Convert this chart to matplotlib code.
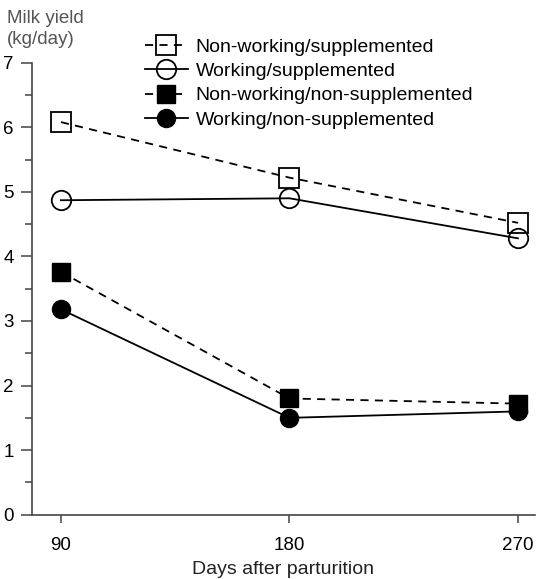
import numpy as np
import matplotlib
matplotlib.use("Agg")
import matplotlib.pyplot as plt

plt.rcParams['font.family'] = ['Liberation Sans', 'DejaVu Sans']

days = [90, 180, 270]

nonwork_supp = [6.08, 5.22, 4.52]
work_supp = [4.87, 4.90, 4.28]
nonwork_nonsupp = [3.76, 1.80, 1.72]
work_nonsupp = [3.18, 1.50, 1.60]

labels = ["Non-working/supplemented",
          "Working/supplemented",
          "Non-working/non-supplemented",
          "Working/non-supplemented"]

W, H = 541, 579
fig = plt.figure(figsize=(W / 100, H / 100), dpi=100)
ax = fig.add_axes([32 / W, 1 - 514.7 / H, (535 - 32) / W, (514.7 - 62.7) / H])

lw = 1.3
ms = 14
dash = (4.5, 3.5)

ax.plot(days, nonwork_supp, color='black', lw=lw, dashes=dash, marker='s',
        ms=ms, mfc='none', mec='black', mew=1.3, label=labels[0])
ax.plot(days, work_supp, color='black', lw=lw, marker='o',
        ms=ms, mfc='none', mec='black', mew=1.3, label=labels[1])
ax.plot(days, nonwork_nonsupp, color='black', lw=lw, dashes=dash, marker='s',
        ms=13, mfc='black', mec='black', label=labels[2])
ax.plot(days, work_nonsupp, color='black', lw=lw, marker='o',
        ms=13, mfc='black', mec='black', label=labels[3])

ax.set_xlim(78.6, 276.7)
ax.set_ylim(0, 7)
ax.set_xticks(days)
ax.set_yticks(range(0, 8))
ax.set_yticks(np.arange(0.5, 7, 1.0), minor=True)

for s in ['top', 'right']:
    ax.spines[s].set_visible(False)
for s in ['left', 'bottom']:
    ax.spines[s].set_color('#444444')
    ax.spines[s].set_linewidth(1.2)

ax.tick_params(axis='y', which='major', length=8, width=1.1, color='#444444',
               labelsize=13.5, pad=5)
ax.tick_params(axis='y', which='minor', length=5, width=1.1, color='#444444')
ax.tick_params(axis='x', which='major', length=6, width=1.1, color='#444444',
               labelsize=13.5, pad=10)

ax.set_xlabel("Days after parturition", fontsize=14, color='#222222', labelpad=5)
fig.text(7 / W, 1 - 10 / H, "Milk yield\n(kg/day)", fontsize=13.5, color='#555555',
         ha='left', va='top', linespacing=1.3)

leg = ax.legend(loc='upper left', bbox_to_anchor=(145 / W, 1 - 38 / H),
                bbox_transform=fig.transFigure, frameon=False, fontsize=14,
                handlelength=2.2, handletextpad=0.4, labelspacing=0.35,
                borderpad=0, borderaxespad=0)

fig.savefig("out.png", dpi=100)
